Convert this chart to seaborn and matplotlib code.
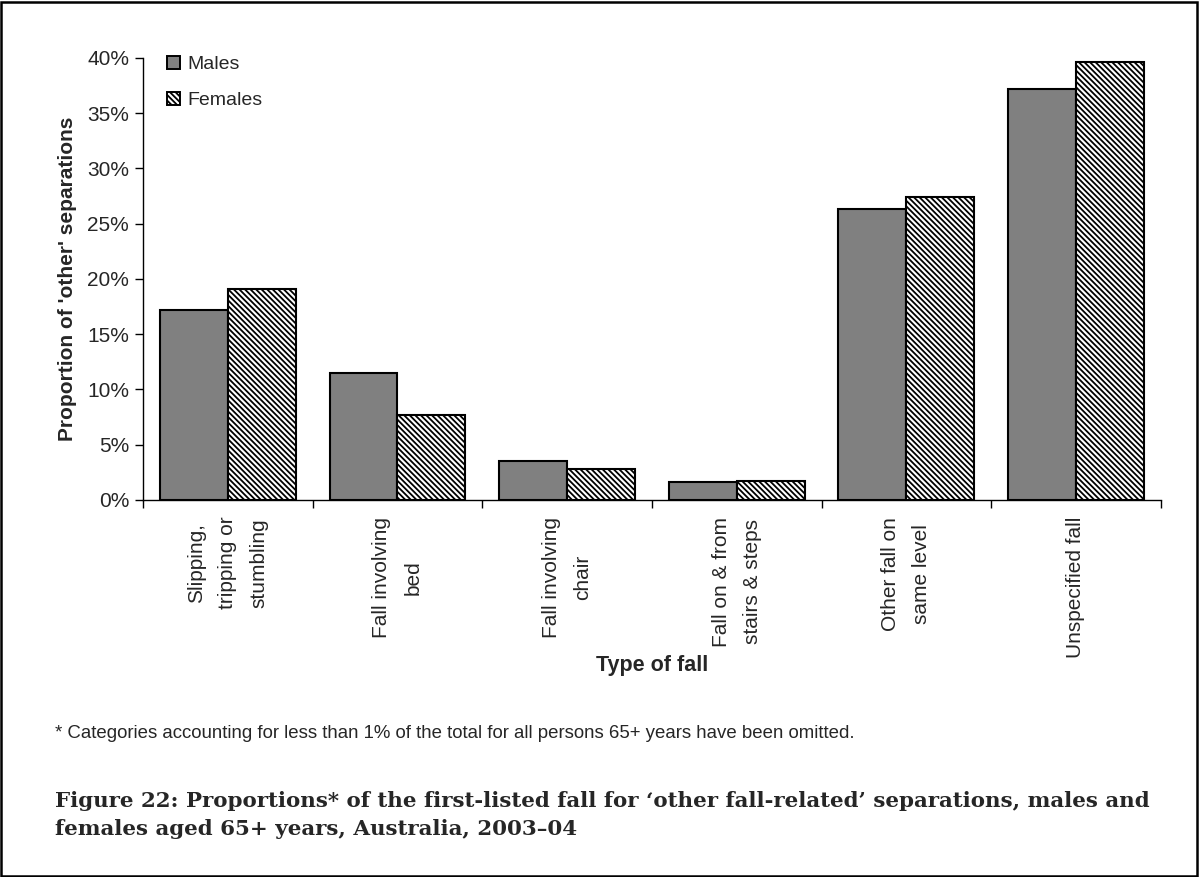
import matplotlib
matplotlib.use("Agg")
import matplotlib.pyplot as plt
from matplotlib.patches import Patch, Rectangle
from matplotlib.ticker import FuncFormatter, FixedLocator
import seaborn as sns
import pandas as pd

categories = ["Slipping,\ntripping or\nstumbling", "Fall involving\nbed", "Fall involving\nchair",
              "Fall on & from\nstairs & steps", "Other fall on\nsame level", "Unspecified fall"]
males = [17.2, 11.5, 3.5, 1.6, 26.3, 37.2]
females = [19.1, 7.7, 2.8, 1.75, 27.4, 39.6]
series = ["Males", "Females"]

df = pd.DataFrame({
    "type": categories * 2,
    "sex": [series[0]] * len(categories) + [series[1]] * len(categories),
    "pct": males + females,
})

sns.set_theme(style="white")
plt.rcParams["font.family"] = ["Liberation Sans", "DejaVu Sans"]
plt.rcParams["hatch.color"] = "#949494"
plt.rcParams["hatch.linewidth"] = 1.3

fig = plt.figure(figsize=(11.99, 8.77), dpi=100)
ax = fig.add_axes([0.1193, 0.4299, 0.8488, 0.504])

sns.barplot(data=df, x="type", y="pct", hue="sex", order=categories, hue_order=series,
            palette=["#808080", "white"], edgecolor="black", linewidth=1.5, saturation=1,
            width=0.8, legend=False, ax=ax)
for bar in ax.containers[1]:
    bar.set_hatch("\\\\\\\\\\\\")

ax.set_ylim(0, 40)
ax.set_xlim(-0.5, len(categories) - 0.5)
ax.yaxis.set_major_locator(FixedLocator(list(range(0, 41, 5))))
ax.yaxis.set_major_formatter(FuncFormatter(lambda v, p: "{:.0f}%".format(v)))
ax.xaxis.set_minor_locator(FixedLocator([i - 0.5 for i in range(len(categories) + 1)]))
ax.tick_params(axis="x", which="major", length=0, pad=12)
ax.tick_params(axis="x", which="minor", length=6, width=1, color="black", direction="out", bottom=True)
ax.tick_params(axis="y", length=6, width=1, color="black", direction="out", left=True, labelsize=15, pad=4)
for lab in ax.get_xticklabels():
    lab.set_rotation(90)
    lab.set_fontsize(15)
    lab.set_va("top")
    lab.set_ha("center")
    lab.set_multialignment("center")
    lab.set_linespacing(1.8)

for side in ["top", "right"]:
    ax.spines[side].set_visible(False)
for side in ["left", "bottom"]:
    ax.spines[side].set_color("black")
    ax.spines[side].set_linewidth(1)

ax.set_ylabel("Proportion of 'other' separations", fontsize=15, fontweight="bold", labelpad=7)
ax.set_xlabel("")
fig.text(0.544, 0.241, "Type of fall", fontsize=15.5, fontweight="bold", ha="center", va="center")

handles = [Patch(facecolor="#808080", edgecolor="black", linewidth=1.4, label="Males"),
           Patch(facecolor="white", edgecolor="black", linewidth=1.4, hatch="\\\\\\\\\\\\", label="Females")]
ax.legend(handles=handles, loc="upper left", bbox_to_anchor=(0.006, 1.045), frameon=False,
          fontsize=14, handlelength=0.7, handleheight=0.7, handletextpad=0.35, labelspacing=0.95)

fig.text(0.046, 0.164, "* Categories accounting for less than 1% of the total for all persons 65+ years have been omitted.",
         fontsize=13.4, ha="left", va="center")
fig.text(0.046, 0.0707,
         "Figure 22: Proportions* of the first-listed fall for \u2018other fall-related\u2019 separations, males and\n"
         "females aged 65+ years, Australia, 2003\u201304",
         fontsize=15.4, fontweight="bold", family=["DejaVu Serif"],
         ha="left", va="center", linespacing=1.5)

fig.patches.append(Rectangle((0.001, 0.0015), 0.997, 0.996, transform=fig.transFigure,
                             fill=False, edgecolor="black", linewidth=1.8))

fig.savefig("out.png", dpi=100)
